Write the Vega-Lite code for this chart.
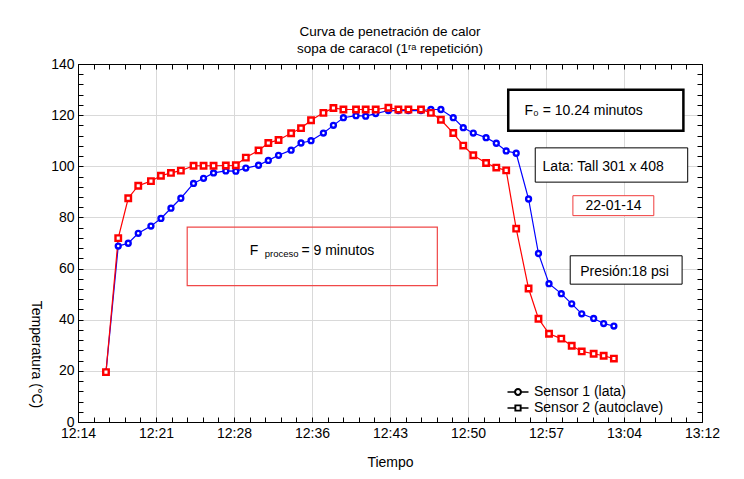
{
  "$schema": "https://vega.github.io/schema/vega-lite/v6.json",
  "width": 624,
  "height": 358,
  "autosize": {"type": "none"},
  "padding": {"left": 78, "top": 64, "right": 42, "bottom": 57},
  "background": "white",
  "title": {
    "text": ["Curva de penetración de calor", "sopa de caracol (1ʳᵃ repetición)"],
    "font": "Liberation Sans",
    "fontSize": 13.5,
    "fontWeight": "normal",
    "color": "#000",
    "anchor": "middle",
    "offset": 2,
    "lineHeight": 17
  },
  "config": {
    "view": {"stroke": "#000", "strokeWidth": 1},
    "axis": {
      "domainColor": "#000",
      "tickColor": "#000",
      "labelColor": "#000",
      "titleColor": "#000",
      "labelFont": "Liberation Sans",
      "titleFont": "Liberation Sans",
      "labelFontSize": 14,
      "titleFontSize": 14,
      "titleFontWeight": "normal",
      "gridColor": "#d9d9d9",
      "gridWidth": 1
    },
    "legend": {
      "orient": "none",
      "legendX": 433,
      "legendY": 321,
      "title": null,
      "padding": 0,
      "labelFont": "Liberation Sans",
      "labelFontSize": 14,
      "labelColor": "#000",
      "labelOffset": 9,
      "rowPadding": 2,
      "symbolSize": 100,
      "symbolStrokeWidth": 0,
      "symbolOpacity": 1
    }
  },
  "datasets": {
    "lecturas": [
      {"minuto": 16.60, "sensor": "Sensor 1 (lata)", "temp": 19.5},
      {"minuto": 17.74, "sensor": "Sensor 1 (lata)", "temp": 68.8},
      {"minuto": 18.67, "sensor": "Sensor 1 (lata)", "temp": 69.9},
      {"minuto": 19.60, "sensor": "Sensor 1 (lata)", "temp": 73.8},
      {"minuto": 20.78, "sensor": "Sensor 1 (lata)", "temp": 76.6},
      {"minuto": 21.71, "sensor": "Sensor 1 (lata)", "temp": 79.6},
      {"minuto": 22.64, "sensor": "Sensor 1 (lata)", "temp": 83.6},
      {"minuto": 23.56, "sensor": "Sensor 1 (lata)", "temp": 87.5},
      {"minuto": 24.74, "sensor": "Sensor 1 (lata)", "temp": 93.3},
      {"minuto": 25.67, "sensor": "Sensor 1 (lata)", "temp": 95.3},
      {"minuto": 26.60, "sensor": "Sensor 1 (lata)", "temp": 97.4},
      {"minuto": 27.74, "sensor": "Sensor 1 (lata)", "temp": 98.2},
      {"minuto": 28.67, "sensor": "Sensor 1 (lata)", "temp": 98.1},
      {"minuto": 29.60, "sensor": "Sensor 1 (lata)", "temp": 99.3},
      {"minuto": 30.78, "sensor": "Sensor 1 (lata)", "temp": 100.4},
      {"minuto": 31.69, "sensor": "Sensor 1 (lata)", "temp": 102.3},
      {"minuto": 32.64, "sensor": "Sensor 1 (lata)", "temp": 104.3},
      {"minuto": 33.81, "sensor": "Sensor 1 (lata)", "temp": 106.3},
      {"minuto": 34.73, "sensor": "Sensor 1 (lata)", "temp": 109.1},
      {"minuto": 35.66, "sensor": "Sensor 1 (lata)", "temp": 110.0},
      {"minuto": 36.81, "sensor": "Sensor 1 (lata)", "temp": 113.0},
      {"minuto": 37.74, "sensor": "Sensor 1 (lata)", "temp": 116.0},
      {"minuto": 38.67, "sensor": "Sensor 1 (lata)", "temp": 119.0},
      {"minuto": 39.84, "sensor": "Sensor 1 (lata)", "temp": 119.8},
      {"minuto": 40.74, "sensor": "Sensor 1 (lata)", "temp": 119.6},
      {"minuto": 41.67, "sensor": "Sensor 1 (lata)", "temp": 120.6},
      {"minuto": 42.85, "sensor": "Sensor 1 (lata)", "temp": 121.8},
      {"minuto": 43.78, "sensor": "Sensor 1 (lata)", "temp": 121.8},
      {"minuto": 44.71, "sensor": "Sensor 1 (lata)", "temp": 121.8},
      {"minuto": 45.88, "sensor": "Sensor 1 (lata)", "temp": 121.8},
      {"minuto": 46.80, "sensor": "Sensor 1 (lata)", "temp": 122.2},
      {"minuto": 47.73, "sensor": "Sensor 1 (lata)", "temp": 122.2},
      {"minuto": 48.88, "sensor": "Sensor 1 (lata)", "temp": 119.0},
      {"minuto": 49.81, "sensor": "Sensor 1 (lata)", "temp": 115.1},
      {"minuto": 50.74, "sensor": "Sensor 1 (lata)", "temp": 113.0},
      {"minuto": 51.93, "sensor": "Sensor 1 (lata)", "temp": 111.2},
      {"minuto": 52.88, "sensor": "Sensor 1 (lata)", "temp": 109.0},
      {"minuto": 53.80, "sensor": "Sensor 1 (lata)", "temp": 106.0},
      {"minuto": 54.73, "sensor": "Sensor 1 (lata)", "temp": 105.1},
      {"minuto": 55.88, "sensor": "Sensor 1 (lata)", "temp": 87.2},
      {"minuto": 56.80, "sensor": "Sensor 1 (lata)", "temp": 65.9},
      {"minuto": 57.78, "sensor": "Sensor 1 (lata)", "temp": 54.1},
      {"minuto": 58.92, "sensor": "Sensor 1 (lata)", "temp": 50.2},
      {"minuto": 59.89, "sensor": "Sensor 1 (lata)", "temp": 46.2},
      {"minuto": 60.82, "sensor": "Sensor 1 (lata)", "temp": 42.3},
      {"minuto": 61.93, "sensor": "Sensor 1 (lata)", "temp": 40.5},
      {"minuto": 62.86, "sensor": "Sensor 1 (lata)", "temp": 38.5},
      {"minuto": 63.81, "sensor": "Sensor 1 (lata)", "temp": 37.5},
      {"minuto": 16.60, "sensor": "Sensor 2 (autoclave)", "temp": 19.5},
      {"minuto": 17.74, "sensor": "Sensor 2 (autoclave)", "temp": 71.9},
      {"minuto": 18.67, "sensor": "Sensor 2 (autoclave)", "temp": 87.5},
      {"minuto": 19.60, "sensor": "Sensor 2 (autoclave)", "temp": 92.4},
      {"minuto": 20.78, "sensor": "Sensor 2 (autoclave)", "temp": 94.2},
      {"minuto": 21.71, "sensor": "Sensor 2 (autoclave)", "temp": 96.3},
      {"minuto": 22.64, "sensor": "Sensor 2 (autoclave)", "temp": 97.4},
      {"minuto": 23.56, "sensor": "Sensor 2 (autoclave)", "temp": 98.3},
      {"minuto": 24.74, "sensor": "Sensor 2 (autoclave)", "temp": 100.2},
      {"minuto": 25.67, "sensor": "Sensor 2 (autoclave)", "temp": 100.2},
      {"minuto": 26.60, "sensor": "Sensor 2 (autoclave)", "temp": 100.2},
      {"minuto": 27.74, "sensor": "Sensor 2 (autoclave)", "temp": 100.3},
      {"minuto": 28.67, "sensor": "Sensor 2 (autoclave)", "temp": 100.4},
      {"minuto": 29.60, "sensor": "Sensor 2 (autoclave)", "temp": 103.4},
      {"minuto": 30.78, "sensor": "Sensor 2 (autoclave)", "temp": 106.2},
      {"minuto": 31.69, "sensor": "Sensor 2 (autoclave)", "temp": 109.1},
      {"minuto": 32.64, "sensor": "Sensor 2 (autoclave)", "temp": 110.3},
      {"minuto": 33.81, "sensor": "Sensor 2 (autoclave)", "temp": 112.9},
      {"minuto": 34.73, "sensor": "Sensor 2 (autoclave)", "temp": 114.9},
      {"minuto": 35.66, "sensor": "Sensor 2 (autoclave)", "temp": 118.0},
      {"minuto": 36.81, "sensor": "Sensor 2 (autoclave)", "temp": 120.9},
      {"minuto": 37.74, "sensor": "Sensor 2 (autoclave)", "temp": 122.8},
      {"minuto": 38.67, "sensor": "Sensor 2 (autoclave)", "temp": 122.2},
      {"minuto": 39.84, "sensor": "Sensor 2 (autoclave)", "temp": 122.2},
      {"minuto": 40.74, "sensor": "Sensor 2 (autoclave)", "temp": 122.2},
      {"minuto": 41.67, "sensor": "Sensor 2 (autoclave)", "temp": 122.2},
      {"minuto": 42.85, "sensor": "Sensor 2 (autoclave)", "temp": 122.9},
      {"minuto": 43.78, "sensor": "Sensor 2 (autoclave)", "temp": 122.2},
      {"minuto": 44.71, "sensor": "Sensor 2 (autoclave)", "temp": 122.2},
      {"minuto": 45.88, "sensor": "Sensor 2 (autoclave)", "temp": 122.2},
      {"minuto": 46.80, "sensor": "Sensor 2 (autoclave)", "temp": 120.9},
      {"minuto": 47.73, "sensor": "Sensor 2 (autoclave)", "temp": 118.2},
      {"minuto": 48.88, "sensor": "Sensor 2 (autoclave)", "temp": 113.0},
      {"minuto": 49.81, "sensor": "Sensor 2 (autoclave)", "temp": 108.1},
      {"minuto": 50.74, "sensor": "Sensor 2 (autoclave)", "temp": 104.3},
      {"minuto": 51.93, "sensor": "Sensor 2 (autoclave)", "temp": 101.3},
      {"minuto": 52.88, "sensor": "Sensor 2 (autoclave)", "temp": 99.5},
      {"minuto": 53.80, "sensor": "Sensor 2 (autoclave)", "temp": 98.4},
      {"minuto": 54.73, "sensor": "Sensor 2 (autoclave)", "temp": 75.6},
      {"minuto": 55.88, "sensor": "Sensor 2 (autoclave)", "temp": 52.2},
      {"minuto": 56.80, "sensor": "Sensor 2 (autoclave)", "temp": 40.4},
      {"minuto": 57.78, "sensor": "Sensor 2 (autoclave)", "temp": 34.5},
      {"minuto": 58.92, "sensor": "Sensor 2 (autoclave)", "temp": 32.6},
      {"minuto": 59.89, "sensor": "Sensor 2 (autoclave)", "temp": 29.8},
      {"minuto": 60.82, "sensor": "Sensor 2 (autoclave)", "temp": 27.6},
      {"minuto": 61.93, "sensor": "Sensor 2 (autoclave)", "temp": 26.7},
      {"minuto": 62.86, "sensor": "Sensor 2 (autoclave)", "temp": 25.9},
      {"minuto": 63.81, "sensor": "Sensor 2 (autoclave)", "temp": 24.8}
    ],
    "cuadro_f0": [
      {"t0": 53.99, "t1": 70.27, "v0": 129.9, "v1": 113.9}
    ],
    "cuadros_negros": [
      {"nota": "lata", "t0": 56.50, "t1": 70.67, "v0": 107.2, "v1": 93.8},
      {"nota": "presion", "t0": 59.75, "t1": 70.15, "v0": 65.0, "v1": 53.9}
    ],
    "cuadro_fecha": [
      {"t0": 60.0, "t1": 67.52, "v0": 88.5, "v1": 80.7}
    ],
    "cuadro_proceso": [
      {"t0": 24.15, "t1": 47.40, "v0": 76.2, "v1": 53.3}
    ],
    "textos": [
      {"t": 55.50, "v": 121.8, "texto": "F₀ =  10.24 minutos"},
      {"t": 57.18, "v": 99.6, "texto": "Lata: Tall 301 x 408"},
      {"t": 61.17, "v": 84.6, "texto": "22-01-14"},
      {"t": 60.68, "v": 58.7, "texto": "Presión:18 psi"},
      {"t": 29.97, "v": 67.0, "texto": "F"},
      {"t": 34.77, "v": 67.0, "texto": "= 9 minutos"}
    ],
    "subindices": [
      {"t": 31.36, "v": 65.6, "texto": "proceso"}
    ]
  },
  "resolve": {
    "axis": {"x": "independent", "y": "independent"},
    "scale": {"shape": "independent"}
  },
  "layer": [
    {
      "data": {"name": "lecturas"},
      "mark": {"type": "line", "strokeWidth": 1.2},
      "encoding": {
        "x": {
          "field": "minuto",
          "type": "quantitative",
          "scale": {"domain": [14, 72], "nice": false, "zero": false},
          "title": "Tiempo",
          "axis": {
            "orient": "bottom",
            "values": [14, 15.45, 16.9, 18.35, 19.8, 21.25, 22.7, 24.15, 25.6, 27.05, 28.5, 29.95, 31.4, 32.85, 34.3, 35.75, 37.2, 38.65, 40.1, 41.55, 43, 44.45, 45.9, 47.35, 48.8, 50.25, 51.7, 53.15, 54.6, 56.05, 57.5, 58.95, 60.4, 61.85, 63.3, 64.75, 66.2, 67.65, 69.1, 70.55, 72],
            "labelExpr": "round((datum.value - 14) / 1.45) % 5 === 0 ? ['12:14','12:21','12:28','12:36','12:43','12:50','12:57','13:04','13:12'][round((datum.value - 14) / 7.25)] : ''",
            "labelOverlap": false,
            "labelFlush": false,
            "tickSize": -5,
            "labelPadding": 9,
            "grid": true,
            "gridOpacity": {"condition": {"test": "round((datum.value - 14) / 1.45) % 5 === 0", "value": 1}, "value": 0},
            "titlePadding": 15
          }
        },
        "y": {
          "field": "temp",
          "type": "quantitative",
          "scale": {"domain": [0, 140], "nice": false},
          "title": "Temperatura (°C)",
          "axis": {
            "orient": "left",
            "values": [0, 4, 8, 12, 16, 20, 24, 28, 32, 36, 40, 44, 48, 52, 56, 60, 64, 68, 72, 76, 80, 84, 88, 92, 96, 100, 104, 108, 112, 116, 120, 124, 128, 132, 136, 140],
            "labelExpr": "datum.value % 20 === 0 ? datum.value : ''",
            "labelOverlap": false,
            "labelFlush": false,
            "tickSize": -5,
            "labelPadding": 9,
            "grid": true,
            "gridOpacity": {"condition": {"test": "datum.value % 20 === 0", "value": 1}, "value": 0},
            "titleAngle": 90,
            "titleAlign": "center",
            "titleBaseline": "middle",
            "titleX": -43,
            "titleY": 290
          }
        },
        "color": {
          "field": "sensor",
          "type": "nominal",
          "scale": {"domain": ["Sensor 1 (lata)", "Sensor 2 (autoclave)"], "range": ["#0000ff", "#ff0000"]},
          "legend": null
        }
      }
    },
    {
      "data": {"name": "lecturas"},
      "mark": {"type": "point", "filled": false, "fill": "white", "strokeWidth": 2.4, "opacity": 1},
      "encoding": {
        "x": {"field": "minuto", "type": "quantitative", "scale": {"domain": [14, 72], "nice": false, "zero": false}, "axis": null},
        "y": {"field": "temp", "type": "quantitative", "scale": {"domain": [0, 140], "nice": false}, "axis": null},
        "color": {
          "field": "sensor",
          "type": "nominal",
          "scale": {"domain": ["Sensor 1 (lata)", "Sensor 2 (autoclave)"], "range": ["#0000ff", "#ff0000"]},
          "legend": null
        },
        "shape": {"field": "sensor", "type": "nominal", "scale": {"domain": ["Sensor 1 (lata)", "Sensor 2 (autoclave)"], "range": ["circle", "square"]}, "legend": null},
        "size": {"field": "sensor", "type": "nominal", "scale": {"domain": ["Sensor 1 (lata)", "Sensor 2 (autoclave)"], "range": [24, 30]}, "legend": null}
      }
    },
    {
      "data": {"name": "lecturas"},
      "transform": [{"filter": "false"}],
      "mark": {"type": "point", "filled": true, "opacity": 1},
      "encoding": {
        "x": {"field": "minuto", "type": "quantitative", "scale": {"domain": [14, 72], "nice": false, "zero": false}, "axis": null},
        "y": {"field": "temp", "type": "quantitative", "scale": {"domain": [0, 140], "nice": false}, "axis": null},
        "color": {
          "field": "sensor",
          "type": "nominal",
          "scale": {"domain": ["Sensor 1 (lata)", "Sensor 2 (autoclave)"], "range": ["#0000ff", "#ff0000"]},
          "legend": null
        },
        "shape": {
          "field": "sensor",
          "type": "nominal",
          "scale": {
            "domain": ["Sensor 1 (lata)", "Sensor 2 (autoclave)"],
            "range": [
              "M-2.1,-0.13H-0.7V0.13H-2.1Z M0.7,-0.13H2.1V0.13H0.7Z M-0.8,0A0.8,0.8,0,1,1,0.8,0A0.8,0.8,0,1,1,-0.8,0Z M-0.38,0A0.38,0.38,0,1,0,0.38,0A0.38,0.38,0,1,0,-0.38,0Z",
              "M-2.1,-0.13H-0.7V0.13H-2.1Z M0.7,-0.13H2.1V0.13H0.7Z M-0.72,-0.72H0.72V0.72H-0.72Z M-0.34,-0.34V0.34H0.34V-0.34Z"
            ]
          },
          "legend": {
            "encode": {
              "symbols": {
                "update": {
                  "fill": {"signal": "datum.value === 'Sensor 1 (lata)' ? '#0000ff' : '#ff0000'"},
                  "strokeWidth": {"value": 0}
                }
              }
            }
          }
        }
      }
    },
    {
      "data": {"name": "cuadro_f0"},
      "mark": {"type": "rect", "fill": "white", "stroke": "#000", "strokeWidth": 2.5},
      "encoding": {
        "x": {
          "field": "t0", "type": "quantitative",
          "scale": {"domain": [14, 72], "nice": false, "zero": false},
          "title": null,
          "axis": {
            "orient": "top",
            "values": [14, 15.45, 16.9, 18.35, 19.8, 21.25, 22.7, 24.15, 25.6, 27.05, 28.5, 29.95, 31.4, 32.85, 34.3, 35.75, 37.2, 38.65, 40.1, 41.55, 43, 44.45, 45.9, 47.35, 48.8, 50.25, 51.7, 53.15, 54.6, 56.05, 57.5, 58.95, 60.4, 61.85, 63.3, 64.75, 66.2, 67.65, 69.1, 70.55, 72],
            "labels": false,
            "grid": false,
            "tickSize": -5
          }
        },
        "x2": {"field": "t1"},
        "y": {
          "field": "v0", "type": "quantitative",
          "scale": {"domain": [0, 140], "nice": false},
          "title": null,
          "axis": {
            "orient": "right",
            "values": [0, 4, 8, 12, 16, 20, 24, 28, 32, 36, 40, 44, 48, 52, 56, 60, 64, 68, 72, 76, 80, 84, 88, 92, 96, 100, 104, 108, 112, 116, 120, 124, 128, 132, 136, 140],
            "labels": false,
            "grid": false,
            "tickSize": -5
          }
        },
        "y2": {"field": "v1"}
      }
    },
    {
      "data": {"name": "cuadros_negros"},
      "mark": {"type": "rect", "fill": "white", "stroke": "#000", "strokeWidth": 1},
      "encoding": {
        "x": {"field": "t0", "type": "quantitative", "scale": {"domain": [14, 72], "nice": false, "zero": false}, "axis": null},
        "x2": {"field": "t1"},
        "y": {"field": "v0", "type": "quantitative", "scale": {"domain": [0, 140], "nice": false}, "axis": null},
        "y2": {"field": "v1"}
      }
    },
    {
      "data": {"name": "cuadro_fecha"},
      "mark": {"type": "rect", "fill": "white", "stroke": "#f03c3c", "strokeWidth": 1},
      "encoding": {
        "x": {"field": "t0", "type": "quantitative", "scale": {"domain": [14, 72], "nice": false, "zero": false}, "axis": null},
        "x2": {"field": "t1"},
        "y": {"field": "v0", "type": "quantitative", "scale": {"domain": [0, 140], "nice": false}, "axis": null},
        "y2": {"field": "v1"}
      }
    },
    {
      "data": {"name": "cuadro_proceso"},
      "mark": {"type": "rect", "fill": null, "stroke": "#f04848", "strokeWidth": 1.2},
      "encoding": {
        "x": {"field": "t0", "type": "quantitative", "scale": {"domain": [14, 72], "nice": false, "zero": false}, "axis": null},
        "x2": {"field": "t1"},
        "y": {"field": "v0", "type": "quantitative", "scale": {"domain": [0, 140], "nice": false}, "axis": null},
        "y2": {"field": "v1"}
      }
    },
    {
      "data": {"name": "textos"},
      "mark": {"type": "text", "align": "left", "baseline": "middle", "font": "Liberation Sans", "fontSize": 14, "color": "#000"},
      "encoding": {
        "x": {"field": "t", "type": "quantitative", "scale": {"domain": [14, 72], "nice": false, "zero": false}, "axis": null},
        "y": {"field": "v", "type": "quantitative", "scale": {"domain": [0, 140], "nice": false}, "axis": null},
        "text": {"field": "texto"}
      }
    },
    {
      "data": {"name": "subindices"},
      "mark": {"type": "text", "align": "left", "baseline": "middle", "font": "Liberation Sans", "fontSize": 9.5, "color": "#000"},
      "encoding": {
        "x": {"field": "t", "type": "quantitative", "scale": {"domain": [14, 72], "nice": false, "zero": false}, "axis": null},
        "y": {"field": "v", "type": "quantitative", "scale": {"domain": [0, 140], "nice": false}, "axis": null},
        "text": {"field": "texto"}
      }
    }
  ]
}
